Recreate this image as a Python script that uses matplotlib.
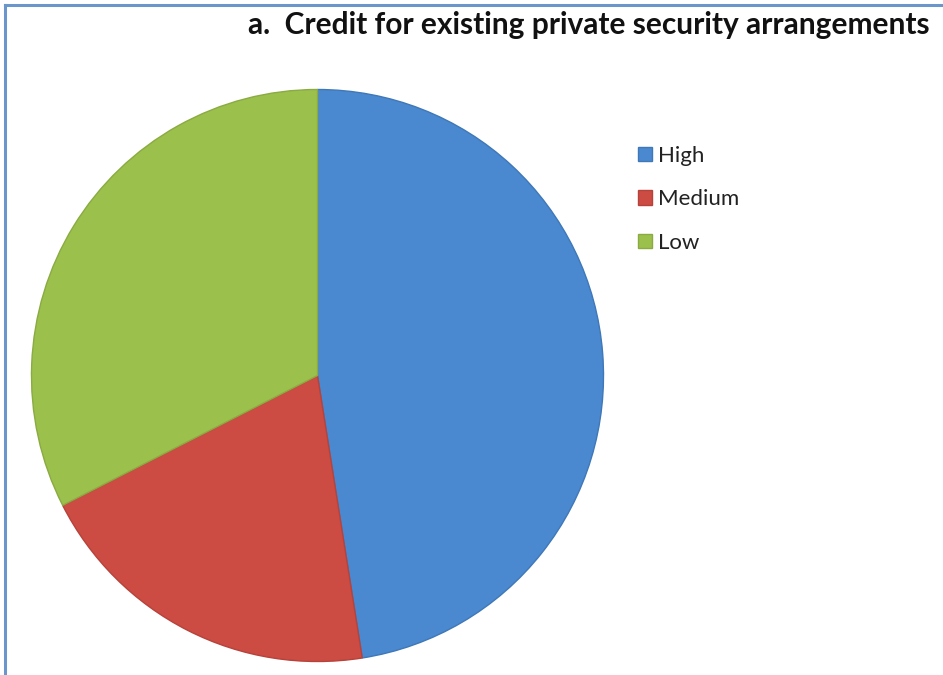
import matplotlib
matplotlib.use("Agg")
import matplotlib.pyplot as plt
from matplotlib.lines import Line2D

# Share of responses per rating level
categories = ["High", "Medium", "Low"]
shares = [47.5, 20.0, 32.5]
colors = ["#4a88cf", "#cc4b42", "#9cc04c"]
edge_colors = ["#3f78b8", "#b6433b", "#8aab42"]
title = "a.  Credit for existing private security arrangements"

plt.rcParams["font.family"] = ["Lato", "DejaVu Sans"]

W, H = 943, 675
fig = plt.figure(figsize=(W / 100, H / 100), dpi=100)
fig.patch.set_facecolor("white")

# pie axes: centre ~ (317, 375) px, radius ~ 286 px
cx, cy, r = 317.5, 375.5, 286.0
ax = fig.add_axes([(cx - r) / W, 1 - (cy + r) / H, 2 * r / W, 2 * r / H])
wedges, _ = ax.pie(shares, colors=colors, startangle=90, counterclock=False,
                   radius=1.0, wedgeprops=dict(linewidth=1.0))
for w, ec in zip(wedges, edge_colors):
    w.set_edgecolor(ec)
ax.set_xlim(-1.0, 1.0)
ax.set_ylim(-1.0, 1.0)
ax.set_axis_off()

fig.text(930 / W, 1 - 25 / H, title, ha="right", va="center",
         fontsize=21.5, fontweight="bold", color="#111111")

leg = fig.legend(wedges, categories, loc="upper left",
                 bbox_to_anchor=(638 / W, 1 - 146 / H), frameon=False,
                 fontsize=16, handlelength=0.62, handleheight=0.62,
                 handletextpad=0.3, labelspacing=1.05, borderpad=0.0,
                 borderaxespad=0.0)
for t in leg.get_texts():
    t.set_color("#222222")

# frame lines along the top and left edges
fig.add_artist(Line2D([5 / W, 1.0], [1 - 4.5 / H, 1 - 4.5 / H],
                      transform=fig.transFigure, color="#6b96cc", linewidth=2.2))
fig.add_artist(Line2D([5 / W, 5 / W], [0.0, 1 - 4.5 / H],
                      transform=fig.transFigure, color="#6b96cc", linewidth=2.2))

fig.savefig("out.png", dpi=100, facecolor="white")
